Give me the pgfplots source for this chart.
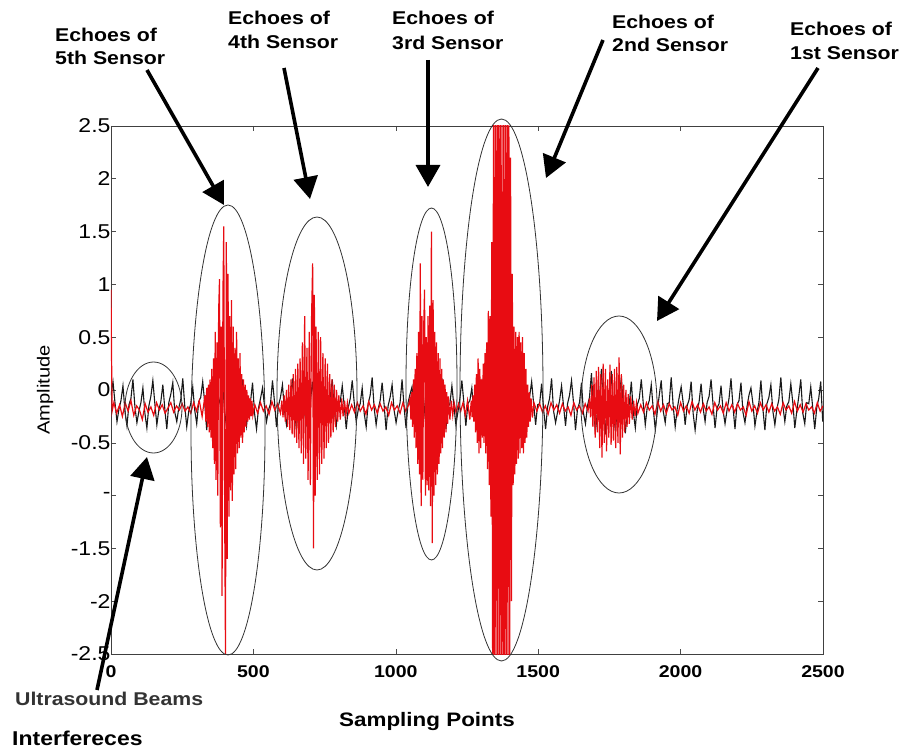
\documentclass[border=0pt]{standalone}
\usepackage{pgfplots}
\pgfplotsset{compat=1.18}
\usepackage{fontspec}
\setmainfont{Liberation Sans}[FakeStretch=1.15]
\usetikzlibrary{arrows.meta}

\definecolor{sigred}{RGB}{232,12,18}
\definecolor{sigblack}{RGB}{25,25,25}

\begin{document}
\begin{tikzpicture}
\begin{axis}[
  at={(0pt,0pt)}, anchor=south west,
  scale only axis, width=712pt, height=528pt,
  xmin=0, xmax=2500, ymin=-2.5, ymax=2.5,
  xtick={0,500,1000,1500,2000,2500},
  xticklabels={0,500,1000,1500,2000,2500},
  ytick={-2.5,-2,-1.5,-1,-0.5,0,0.5,1,1.5,2,2.5},
  yticklabels={-2.5,-2,-1.5,-,-0.5,0,0.5,1,1.5,2,2.5},
  tick align=inside, major tick length=5pt,
  tick style={black!70, line width=0.6pt},
  axis line style={black!75, line width=0.9pt},
  xticklabel style={font=\fontsize{17}{17}\selectfont\bfseries, yshift=-8pt},
  yticklabel style={font=\fontsize{20}{20}\selectfont, xshift=3pt},
  clip=true,
]
% reference (interference) channel
\addplot[sigblack, line width=1.1pt] coordinates {
(0,-0.05)(7,0.08)(14,-0.12)(21,-0.30)(28,-0.18)
(35,-0.10)(42,0.04)(49,-0.20)(56,-0.34)(63,-0.14)
(70,-0.08)(77,0.10)(84,-0.16)(91,-0.31)(98,-0.20)
(105,-0.12)(112,0.02)(119,-0.22)(126,-0.36)(133,-0.15)
(140,-0.06)(147,0.09)(154,-0.13)(161,-0.33)(168,-0.19)
(175,-0.11)(182,0.05)(189,-0.18)(196,-0.37)(203,-0.12)
(210,-0.04)(217,0.07)(224,-0.21)(231,-0.30)(238,-0.17)
(245,-0.09)(252,0.11)(259,-0.15)(266,-0.35)(273,-0.20)
(280,-0.13)(287,0.03)(294,-0.19)(301,-0.32)(308,-0.11)
(315,-0.07)(322,0.08)(329,-0.12)(336,-0.38)(343,-0.18)
(350,-0.10)(357,0.12)(364,-0.17)(371,-0.33)(378,-0.14)
(385,-0.06)(392,0.06)(399,-0.20)(406,-0.36)(413,-0.16)
(420,-0.12)(427,0.04)(434,-0.14)(441,-0.31)(448,-0.21)
(455,-0.05)(462,0.10)(469,-0.18)(476,-0.34)(483,-0.13)
(490,-0.11)(497,0.07)(504,-0.22)(511,-0.37)(518,-0.17)
(525,-0.08)(532,0.02)(539,-0.15)(546,-0.30)(553,-0.19)
(560,-0.13)(567,0.09)(574,-0.11)(581,-0.35)(588,-0.15)
(595,-0.07)(602,0.05)(609,-0.19)(616,-0.33)(623,-0.20)
(630,-0.10)(637,0.11)(644,-0.16)(651,-0.38)(658,-0.12)
(665,-0.04)(672,0.03)(679,-0.21)(686,-0.32)(693,-0.18)
(700,-0.12)(707,0.08)(714,-0.13)(721,-0.36)(728,-0.16)
(735,-0.09)(742,0.06)(749,-0.18)(756,-0.31)(763,-0.21)
(770,-0.06)(777,0.10)(784,-0.20)(791,-0.34)(798,-0.14)
(805,-0.11)(812,0.04)(819,-0.15)(826,-0.37)(833,-0.17)
(840,-0.08)(847,0.09)(854,-0.12)(861,-0.30)(868,-0.19)
(875,-0.13)(882,0.02)(889,-0.22)(896,-0.35)(903,-0.13)
(910,-0.05)(917,0.12)(924,-0.17)(931,-0.33)(938,-0.18)
(945,-0.10)(952,0.07)(959,-0.14)(966,-0.38)(973,-0.15)
(980,-0.07)(987,0.05)(994,-0.19)(1001,-0.31)(1008,-0.20)
(1015,-0.12)(1022,0.10)(1029,-0.16)(1036,-0.36)(1043,-0.12)
(1050,-0.04)(1057,0.03)(1064,-0.21)(1071,-0.32)(1078,-0.17)
(1085,-0.09)(1092,0.08)(1099,-0.13)(1106,-0.35)(1113,-0.19)
(1120,-0.11)(1127,0.06)(1134,-0.18)(1141,-0.30)(1148,-0.14)
(1155,-0.06)(1162,0.11)(1169,-0.20)(1176,-0.37)(1183,-0.16)
(1190,-0.13)(1197,0.04)(1204,-0.15)(1211,-0.33)(1218,-0.21)
(1225,-0.08)(1232,0.09)(1239,-0.12)(1246,-0.34)(1253,-0.13)
(1260,-0.10)(1267,0.02)(1274,-0.22)(1281,-0.31)(1288,-0.18)
(1295,-0.05)(1302,0.07)(1309,-0.17)(1316,-0.38)(1323,-0.15)
(1330,-0.12)(1337,0.12)(1344,-0.14)(1351,-0.32)(1358,-0.20)
(1365,-0.07)(1372,0.05)(1379,-0.19)(1386,-0.36)(1393,-0.12)
(1400,-0.09)(1407,0.10)(1414,-0.16)(1421,-0.30)(1428,-0.17)
(1435,-0.11)(1442,0.03)(1449,-0.21)(1456,-0.35)(1463,-0.19)
(1470,-0.06)(1477,0.08)(1484,-0.13)(1491,-0.33)(1498,-0.14)
(1505,-0.13)(1512,0.06)(1519,-0.18)(1526,-0.37)(1533,-0.16)
(1540,-0.08)(1547,0.11)(1554,-0.20)(1561,-0.31)(1568,-0.21)
(1575,-0.10)(1582,0.04)(1589,-0.15)(1596,-0.34)(1603,-0.13)
(1610,-0.05)(1617,0.09)(1624,-0.12)(1631,-0.38)(1638,-0.18)
(1645,-0.12)(1652,0.07)(1659,-0.22)(1666,-0.32)(1673,-0.15)
(1680,-0.07)(1687,0.16)(1694,-0.17)(1701,-0.40)(1708,-0.20)
(1715,-0.09)(1722,0.20)(1729,-0.14)(1736,-0.42)(1743,-0.12)
(1750,-0.11)(1757,0.18)(1764,-0.19)(1771,-0.39)(1778,-0.17)
(1785,-0.06)(1792,0.12)(1799,-0.16)(1806,-0.41)(1813,-0.19)
(1820,-0.13)(1827,0.08)(1834,-0.21)(1841,-0.36)(1848,-0.14)
(1855,-0.08)(1862,0.10)(1869,-0.13)(1876,-0.33)(1883,-0.16)
(1890,-0.10)(1897,0.05)(1904,-0.18)(1911,-0.37)(1918,-0.21)
(1925,-0.05)(1932,0.09)(1939,-0.20)(1946,-0.31)(1953,-0.13)
(1960,-0.12)(1967,0.12)(1974,-0.15)(1981,-0.35)(1988,-0.18)
(1995,-0.07)(2002,0.03)(2009,-0.12)(2016,-0.33)(2023,-0.15)
(2030,-0.09)(2037,0.08)(2044,-0.22)(2051,-0.38)(2058,-0.20)
(2065,-0.11)(2072,0.06)(2079,-0.17)(2086,-0.30)(2093,-0.12)
(2100,-0.06)(2107,0.10)(2114,-0.14)(2121,-0.36)(2128,-0.17)
(2135,-0.13)(2142,0.04)(2149,-0.19)(2156,-0.32)(2163,-0.19)
(2170,-0.08)(2177,0.11)(2184,-0.16)(2191,-0.37)(2198,-0.14)
(2205,-0.10)(2212,0.07)(2219,-0.21)(2226,-0.31)(2233,-0.16)
(2240,-0.05)(2247,0.02)(2254,-0.13)(2261,-0.34)(2268,-0.21)
(2275,-0.12)(2282,0.09)(2289,-0.18)(2296,-0.38)(2303,-0.13)
(2310,-0.07)(2317,0.05)(2324,-0.20)(2331,-0.33)(2338,-0.18)
(2345,-0.09)(2352,0.12)(2359,-0.15)(2366,-0.30)(2373,-0.15)
(2380,-0.11)(2387,0.06)(2394,-0.12)(2401,-0.36)(2408,-0.20)
(2415,-0.06)(2422,0.10)(2429,-0.22)(2436,-0.32)(2443,-0.12)
(2450,-0.13)(2457,0.03)(2464,-0.17)(2471,-0.37)(2478,-0.17)
(2485,-0.08)(2492,0.08)(2499,-0.30)
};
% received echo channel
\addplot[sigred, line width=1.2pt] coordinates {
(0,0.95)(2,0.30)(4,-0.20)(10,-0.12)(20,-0.22)(30,-0.14)(40,-0.25)(50,-0.12)(60,-0.20)(70,-0.10)
(80,-0.24)(90,-0.15)(100,-0.19)(110,-0.28)(120,-0.13)(130,-0.21)(140,-0.16)(150,-0.24)(160,-0.12)
(170,-0.19)(180,-0.14)(190,-0.22)(200,-0.17)(210,-0.12)(220,-0.21)(230,-0.15)(240,-0.19)(250,-0.13)
(260,-0.20)(270,-0.16)(280,-0.22)(290,-0.12)(300,-0.20)(310,-0.10)(320,-0.25)
(330,-0.05)(333,-0.30)(336,0.02)(339,-0.35)(342,0.05)(345,-0.40)(348,0.10)(351,-0.45)(354,0.20)
(357,-0.55)(360,0.30)(363,-0.70)(366,0.55)(369,-0.85)(372,0.45)(375,-1.00)(378,0.75)(381,1.05)
(384,-1.30)(387,0.60)(390,-1.95)(393,0.90)(396,1.55)(399,-1.10)(402,-2.50)(405,1.40)(408,-1.60)
(411,1.10)(414,-1.20)(417,0.70)(420,-0.95)(423,0.85)(426,-1.05)(429,0.60)(432,-0.80)(435,0.40)
(438,-0.75)(441,0.55)(444,-0.60)(447,0.30)(450,-0.55)(453,0.35)(456,-0.45)(459,0.15)(462,-0.50)
(465,0.10)(468,-0.40)(471,0.05)(474,-0.35)(477,0.00)(480,-0.30)(483,-0.05)(486,-0.28)(489,-0.08)
(492,-0.25)(495,-0.10)(498,-0.24)
(505,-0.14)(515,-0.22)(525,-0.12)(535,-0.20)(545,-0.15)(555,-0.23)(565,-0.11)(575,-0.19)(585,-0.13)(595,-0.22)
(600,-0.10)(604,-0.26)(608,-0.05)(612,-0.30)(616,0.00)(620,-0.35)(624,0.05)(628,-0.38)(632,0.10)
(636,-0.42)(640,0.15)(644,-0.45)(648,0.20)(652,-0.50)(656,0.25)(660,-0.55)(664,0.30)(668,-0.60)
(672,0.45)(676,-0.70)(680,0.70)(684,-0.65)(688,0.40)(692,-0.85)(696,0.55)(700,-0.90)(704,0.65)
(708,1.20)(711,-1.50)(714,0.90)(717,-1.00)(720,0.60)(724,-0.85)(728,0.55)(732,-0.80)(736,0.50)
(740,-0.70)(744,0.35)(748,-0.65)(752,0.30)(756,-0.55)(760,0.25)(764,-0.50)(768,0.15)(772,-0.45)
(776,0.10)(780,-0.40)(784,0.05)(788,-0.35)(792,0.00)(796,-0.30)(800,-0.05)(805,-0.28)(810,-0.08)
(815,-0.25)(820,-0.10)(825,-0.24)(830,-0.12)(835,-0.22)
(845,-0.14)(855,-0.21)(865,-0.12)(875,-0.20)(885,-0.15)(895,-0.23)(905,-0.11)(915,-0.19)(925,-0.14)
(935,-0.22)(945,-0.13)(955,-0.20)(965,-0.16)(975,-0.24)(985,-0.12)(995,-0.19)(1005,-0.15)(1015,-0.22)
(1025,-0.12)(1035,-0.20)(1045,-0.14)
(1050,-0.08)(1053,-0.28)(1056,-0.02)(1059,-0.35)(1062,0.10)(1065,-0.45)(1068,0.20)(1071,-0.55)
(1074,0.35)(1077,-0.70)(1080,0.55)(1083,-0.80)(1086,1.20)(1089,-1.10)(1092,0.70)(1095,-0.85)
(1098,0.60)(1101,0.95)(1104,-1.00)(1107,0.50)(1110,-0.90)(1113,0.70)(1116,-0.95)(1119,0.80)
(1122,-1.10)(1125,1.50)(1128,-1.45)(1131,0.85)(1134,-1.00)(1137,0.55)(1140,-0.90)(1143,0.45)
(1146,-0.80)(1149,0.35)(1152,-0.70)(1155,0.30)(1158,-0.60)(1161,0.20)(1164,-0.55)(1167,0.10)
(1170,-0.45)(1173,0.05)(1176,-0.40)(1179,-0.02)(1182,-0.32)(1185,-0.06)(1190,-0.28)(1195,-0.10)
(1200,-0.24)(1205,-0.12)
(1212,-0.22)(1220,-0.13)(1228,-0.20)(1236,-0.12)(1244,-0.24)(1252,-0.10)(1260,-0.28)
(1265,-0.10)(1268,-0.26)(1271,-0.05)(1274,-0.30)(1277,0.05)(1280,-0.40)(1283,0.15)(1286,-0.50)
(1289,0.30)(1292,-0.60)(1295,0.20)(1298,-0.55)(1301,0.10)(1304,-0.45)(1307,0.25)(1310,-0.50)
(1313,0.35)(1316,-0.60)(1319,0.45)(1322,-0.75)(1325,0.75)(1328,-0.90)(1331,0.70)(1334,-1.20)
(1337,1.40)(1340,-2.60)(1343,2.60)(1346,-2.60)(1349,2.60)(1352,-2.60)(1355,2.60)(1358,-2.60)
(1361,2.60)(1364,-2.60)(1367,2.60)(1370,-2.60)(1373,2.60)(1376,-2.60)(1379,2.60)(1382,-2.60)
(1385,2.60)(1388,-2.60)(1391,2.60)(1394,-2.60)(1397,2.60)(1400,-2.60)(1403,2.20)(1406,-2.00)
(1409,1.10)(1412,-0.90)(1415,0.60)(1418,-0.80)(1421,0.55)(1424,-0.70)(1427,0.50)(1430,-0.65)
(1433,0.55)(1436,-0.60)(1439,0.45)(1442,-0.55)(1445,0.50)(1448,-0.60)(1451,0.35)(1454,-0.50)
(1457,0.20)(1460,-0.45)(1463,0.05)(1466,-0.35)(1469,-0.02)(1472,-0.30)(1475,-0.08)(1480,-0.26)
(1485,-0.12)
(1495,-0.20)(1505,-0.13)(1515,-0.21)(1525,-0.15)(1535,-0.23)(1545,-0.12)(1555,-0.19)(1565,-0.14)
(1575,-0.22)(1585,-0.13)(1595,-0.20)(1605,-0.16)(1615,-0.24)(1625,-0.12)(1635,-0.19)(1645,-0.15)
(1655,-0.22)(1665,-0.13)(1675,-0.20)
(1680,-0.08)(1684,-0.26)(1688,0.05)(1692,-0.35)(1696,0.12)(1700,-0.45)(1704,0.18)(1708,-0.40)
(1712,0.22)(1716,-0.55)(1720,0.15)(1724,-0.64)(1728,0.25)(1732,-0.50)(1736,0.20)(1740,-0.58)
(1744,0.10)(1748,-0.45)(1752,0.24)(1756,-0.52)(1760,0.15)(1764,-0.48)(1768,0.20)(1772,-0.55)
(1776,0.22)(1780,-0.50)(1784,0.31)(1788,-0.61)(1792,0.15)(1796,-0.45)(1800,0.05)(1804,-0.40)
(1808,0.00)(1812,-0.35)(1816,-0.04)(1820,-0.32)(1825,-0.06)(1830,-0.28)(1835,-0.10)(1840,-0.25)
(1845,-0.12)(1850,-0.22)
(1860,-0.14)(1870,-0.21)(1880,-0.12)(1890,-0.19)(1900,-0.15)(1910,-0.23)(1920,-0.11)(1930,-0.20)
(1940,-0.14)(1950,-0.22)(1960,-0.13)(1970,-0.19)(1980,-0.16)(1990,-0.24)(2000,-0.12)(2010,-0.20)
(2020,-0.15)(2030,-0.22)(2040,-0.11)(2050,-0.19)(2060,-0.14)(2070,-0.21)(2080,-0.13)(2090,-0.20)
(2100,-0.16)(2110,-0.23)(2120,-0.12)(2130,-0.19)(2140,-0.15)(2150,-0.22)(2160,-0.12)(2170,-0.20)
(2180,-0.14)(2190,-0.21)(2200,-0.13)(2210,-0.19)(2220,-0.16)(2230,-0.24)(2240,-0.11)(2250,-0.20)
(2260,-0.15)(2270,-0.22)(2280,-0.12)(2290,-0.19)(2300,-0.14)(2310,-0.21)(2320,-0.13)(2330,-0.20)
(2340,-0.16)(2350,-0.23)(2360,-0.12)(2370,-0.19)(2380,-0.15)(2390,-0.22)(2400,-0.11)(2410,-0.20)
(2420,-0.14)(2430,-0.21)(2440,-0.13)(2450,-0.19)(2460,-0.16)(2470,-0.22)(2480,-0.12)(2490,-0.20)
(2500,-0.15)
};
\end{axis}

% annotations, laid out in page units (1pt = 1px, y downwards)
\begin{scope}[x=1pt, y=-1pt, shift={(-111,-654)}]
  % ellipses round the echo groups
  \begin{scope}[draw=black!80, line width=0.8pt]
    \draw (153.5,407.5) ellipse [x radius=28.5, y radius=45.5];
    \draw (228,430) ellipse [x radius=37, y radius=225];
    \draw (317,393.5) ellipse [x radius=40, y radius=176.5];
    \draw (431.5,384) ellipse [x radius=25.5, y radius=176];
    \draw (501.5,390) ellipse [x radius=41.5, y radius=271];
    \draw (619,404.5) ellipse [x radius=38, y radius=88.5];
  \end{scope}
  % pointer arrows
  \begin{scope}[line width=3.6pt, black, -{Triangle[length=22pt,width=24pt]}]
    \draw (147,70) -- (224,205);
    \draw (284,68) -- (310,199);
    \draw (428,60) -- (428,187);
    \draw (603,40) -- (546,178);
    \draw (818,68) -- (657,321);
    \draw (97,690) -- (147,457);
  \end{scope}
  % callout texts
  \begin{scope}[every node/.style={anchor=base west, inner sep=0pt,
      font=\fontsize{18.5}{20}\selectfont\bfseries}]
    \node at (55,42) {Echoes of};   \node at (55,65) {5th Sensor};
    \node at (228,25) {Echoes of};  \node at (228,49) {4th Sensor};
    \node at (392,25) {Echoes of};  \node at (392,50) {3rd Sensor};
    \node at (612,29) {Echoes of};  \node at (612,52) {2nd Sensor};
    \node at (790,36) {Echoes of};  \node at (790,60) {1st Sensor};
    \node[text=black!80] at (15,705) {Ultrasound Beams};
    \node[font=\fontsize{20}{22}\selectfont\bfseries] at (12,745) {Interfereces};
  \end{scope}
  % axis titles
  \node[anchor=base, inner sep=0pt, font=\fontsize{19.5}{21}\selectfont\bfseries]
    at (427,726) {Sampling Points};
  \node[rotate=90, inner sep=0pt, font=\fontsize{17.5}{19}\selectfont]
    at (45,390) {Amplitude};
  \pgfresetboundingbox
  \path[use as bounding box] (0,0) rectangle (906,748);
\end{scope}
\end{tikzpicture}
\end{document}
